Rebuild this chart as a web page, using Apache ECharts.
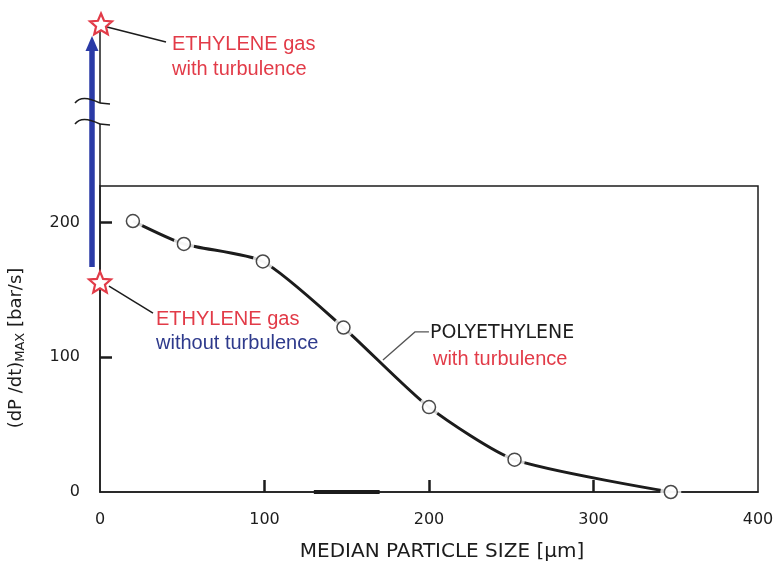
<!DOCTYPE html>
<html><head><meta charset="utf-8">
<script src="https://cdn.jsdelivr.net/npm/echarts@6/dist/echarts.min.js"></script>
<style>html,body{margin:0;padding:0;background:#fff}#c{width:780px;height:564px}</style>
</head><body><div id="c"></div>
<script>
// ---- data ----
const particleSize = [20, 51, 99, 148, 200, 252, 347];      // µm
const dpdtMax      = [201, 184, 171, 122, 63, 24, 0];      // bar/s
const ethyleneNoTurb = [[0, 155]];                          // ethylene gas without turbulence
const ethyleneTurbStart = 167;                              // start of blue arrow (bar/s)
const sizeRange = [[130, 0], [170, 0]];                     // thick mark on x axis
const xTicks = [0, 100, 200, 300, 400];
const yTicks = [0, 100, 200];
const yMax = 227;

const RED = '#e23b48', BLUE = '#2a3aa6', BLUE_TXT = '#2e3a8c', INK = '#1c1c1c';
const TXT_FONT = 'Liberation Sans, Arial, sans-serif';
const TECH_FONT = 'DejaVu Sans, sans-serif';

const chart = echarts.init(document.getElementById('c'), null, {renderer: 'canvas'});
const pts = particleSize.map((x, i) => [x, dpdtMax[i]]);

chart.setOption({
  animation: false,
  backgroundColor: '#fff',
  grid: {left: 100, right: 22, top: 186, bottom: 72, show: true, borderColor: INK, borderWidth: 1.5,
         backgroundColor: 'transparent', containLabel: false, outerBoundsMode: 'none'},
  xAxis: {
    type: 'value', min: xTicks[0], max: xTicks[xTicks.length - 1], interval: 100,
    name: 'MEDIAN PARTICLE SIZE [µm]', nameLocation: 'middle', nameGap: 50,
    nameTextStyle: {fontFamily: TECH_FONT, fontSize: 20, color: INK, padding: [0, 0, 0, 26]},
    axisLine: {show: true, lineStyle: {color: INK, width: 1.5}},
    axisTick: {show: true, inside: true, length: 12, customValues: xTicks.slice(1, -1), lineStyle: {color: INK, width: 2.5}},
    axisLabel: {fontFamily: TECH_FONT, fontSize: 16, color: INK, margin: 20},
    splitLine: {show: false}
  },
  yAxis: {
    type: 'value', min: yTicks[0], max: yMax, interval: 100,
    name: '{m|(dP /dt)}{s|MAX}{m| [bar/s]}', nameLocation: 'middle', nameGap: 72, nameRotate: 90,
    nameTextStyle: {padding: [0, 18, 0, 0],
      rich: {m: {fontFamily: TECH_FONT, fontSize: 18, color: INK, height: 24, verticalAlign: 'middle'},
             s: {fontFamily: TECH_FONT, fontSize: 13, color: INK, padding: [10, 0, 0, 0], verticalAlign: 'middle'}}},
    axisLine: {show: true, lineStyle: {color: INK, width: 1.5}},
    axisTick: {show: true, inside: true, length: 12, customValues: yTicks.slice(1), lineStyle: {color: INK, width: 2.5}},
    axisLabel: {fontFamily: TECH_FONT, fontSize: 16, color: INK, margin: 20, showMaxLabel: false},
    splitLine: {show: false}
  },
  series: [
    {type: 'line', data: pts, smooth: 0.22, showSymbol: false, symbol: 'none', silent: true, z: 3,
     lineStyle: {color: INK, width: 3}},
    {type: 'scatter', data: pts, symbol: 'circle', symbolSize: 21, silent: true, z: 4, clip: false,
     itemStyle: {color: '#fff', borderWidth: 0}},
    {type: 'scatter', data: pts, symbol: 'circle', symbolSize: 13, silent: true, z: 5, clip: false,
     itemStyle: {color: '#fff', borderColor: INK, borderWidth: 1.5}},
    {type: 'line', data: sizeRange, symbol: 'none', silent: true, z: 3, clip: false,
     lineStyle: {color: INK, width: 4}}
  ]
});

// ---- annotations, anchored to the axes ----
const P = (x, y) => chart.convertToPixel({gridIndex: 0}, [x, y]);
const [ax, y0] = P(0, 0);
const gridTop = P(0, yMax)[1];
const star = P(ethyleneNoTurb[0][0], ethyleneNoTurb[0][1]);
const blueStart = P(0, ethyleneTurbStart)[1];

function starPoints(cx, cy, R, r) {
  const p = [];
  for (let i = 0; i < 10; i++) {
    const a = -Math.PI / 2 + i * Math.PI / 5, rr = i % 2 ? r : R;
    p.push([cx + rr * Math.cos(a), cy + rr * Math.sin(a)]);
  }
  return p;
}
const lowBrk = gridTop - 63, upBrk = gridTop - 84, topStarY = gridTop - 162;
const mkLine = (x1, y1, x2, y2, color, w, z) => ({type: 'line', silent: true, z: z || 10,
  shape: {x1, y1, x2, y2}, style: {stroke: color, lineWidth: w}});
const mkText = (t, x, y, font, color) => ({type: 'text', silent: true, z: 20,
  style: {text: t, x, y, font, fill: color, textAlign: 'left', textVerticalAlign: 'middle', verticalAlign: 'middle'}});
const mkBrk = (y) => [
  {type: 'bezierCurve', silent: true, z: 11,
   shape: {x1: ax - 25, y1: y + 1, cpx1: ax - 20, cpy1: y - 6, cpx2: ax - 10, cpy2: y - 4, x2: ax, y2: y + 1},
   style: {stroke: INK, lineWidth: 1.5, fill: null}},
  mkLine(ax, y + 1, ax + 10, y + 2, INK, 1.5, 11)
];

const g = [];
// blue arrow (ethylene gas with turbulence increases)
g.push(mkLine(ax - 8, blueStart, ax - 8, topStarY + 22, BLUE, 5.5, 8));
g.push({type: 'polygon', silent: true, z: 8, shape: {points: [[ax - 8, topStarY + 12], [ax - 14.5, topStarY + 27], [ax - 1.5, topStarY + 27]]}, style: {fill: BLUE}});
// y axis continuation through the break
g.push(mkLine(ax, gridTop, ax, lowBrk + 1, INK, 1.5));
g.push(mkLine(ax, upBrk + 1, ax, topStarY + 6, INK, 1.5));
g.push(...mkBrk(lowBrk), ...mkBrk(upBrk));
// stars
g.push({type: 'polygon', silent: true, z: 12, shape: {points: starPoints(ax + 1, topStarY + 1, 11.5, 5.2)}, style: {fill: '#fff', stroke: RED, lineWidth: 2.2}});
g.push({type: 'polygon', silent: true, z: 12, shape: {points: starPoints(star[0], star[1], 11.5, 5.2)}, style: {fill: '#fff', stroke: RED, lineWidth: 2.2}});
// top label
g.push(mkLine(ax + 7, topStarY + 3, ax + 66, topStarY + 18, INK, 1.5));
g.push(mkText('ETHYLENE gas', ax + 72, topStarY + 20, '20px ' + TXT_FONT, RED));
g.push(mkText('with turbulence', ax + 72, topStarY + 45, '20px ' + TXT_FONT, RED));
// lower star label
g.push(mkLine(star[0] + 9, star[1] + 3, star[0] + 53, star[1] + 30, INK, 1.5));
g.push(mkText('ETHYLENE gas', star[0] + 56, star[1] + 36, '20px ' + TXT_FONT, RED));
g.push(mkText('without turbulence', star[0] + 56, star[1] + 60, '20px ' + TXT_FONT, BLUE_TXT));
// polyethylene label
const anchor = P(172, 98);
g.push({type: 'polyline', silent: true, z: 10, shape: {points: [[anchor[0], anchor[1]], [anchor[0] + 32, anchor[1] - 28], [anchor[0] + 46, anchor[1] - 28]]}, style: {stroke: '#555', lineWidth: 1.3, fill: null}});
g.push(mkText('POLYETHYLENE', anchor[0] + 47, anchor[1] - 27, '19px ' + TECH_FONT, INK));
g.push(mkText('with turbulence', anchor[0] + 50, anchor[1] + 0, '20px ' + TXT_FONT, RED));

chart.setOption({graphic: {elements: g}});
</script></body></html>
